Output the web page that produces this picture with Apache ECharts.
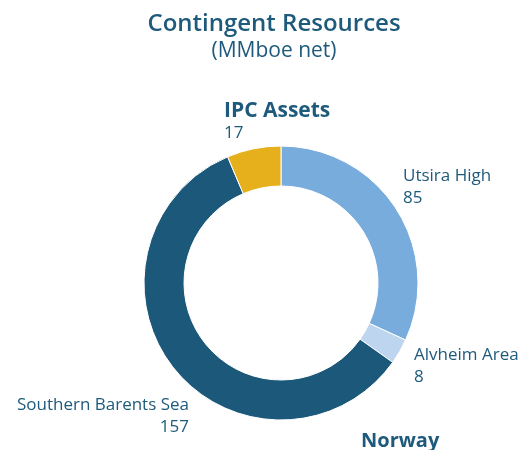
<!DOCTYPE html>
<html>
<head>
<meta charset="utf-8">
<title>Contingent Resources</title>
<script src="https://cdn.jsdelivr.net/npm/echarts@6/dist/echarts.min.js"></script>
<style>
html, body { margin: 0; padding: 0; background: #fff; }
#chart { width: 523px; height: 450px; }
</style>
</head>
<body>
<div id="chart"></div>
<script>
// data
var names = ['Utsira High', 'Alvheim Area', 'Southern Barents Sea', 'IPC Assets'];
var values = [85, 8, 157, 17];
var colors = ['#78acdd', '#bed5ef', '#1b5879', '#e6b01d'];

var textColor = '#1e5a7b';
var font = 'Open Sans';

// label placement for each slice (x, y of middle of label, alignment)
var labelPos = [
	{ x: 403, y: 187, align: 'left' },
	{ x: 414, y: 366, align: 'left' },
	{ x: 189, y: 416, align: 'right' },
	{ x: 224, y: 122, align: 'left' }
];

var chart = echarts.init(document.getElementById('chart'));

var data = names.map(function (n, i) {
	var bold = n === 'IPC Assets';
	return {
		name: n,
		value: values[i],
		itemStyle: { color: colors[i] },
		label: {
			formatter: bold ? '{b|{b}}\n{v|{c}}' : '{n|{b}}\n{v|{c}}',
			align: labelPos[i].align
		}
	};
});

var option = {
	animation: false,
	title: [{
		text: 'Contingent Resources',
		left: 269,
		top: 7,
		textAlign: 'center',
		textStyle: { fontFamily: font, fontSize: 24, fontWeight: 600, color: textColor }
	}, {
		text: '(MMboe net)',
		left: 269,
		top: 36,
		textAlign: 'center',
		textStyle: { fontFamily: font, fontSize: 21, fontWeight: 'normal', color: textColor }
	}],
	graphic: [{
		type: 'text',
		left: 361,
		top: 431,
		style: {
			text: 'Norway',
			fontFamily: font,
			fontSize: 20,
			fontWeight: 'bold',
			fill: textColor
		}
	}],
	series: [{
		type: 'pie',
		center: [281, 283],
		radius: [97, 137],
		startAngle: 90,
		clockwise: true,
		avoidLabelOverlap: false,
		itemStyle: { borderColor: '#fff', borderWidth: 1 },
		label: {
			show: true,
			position: 'outside',
			color: textColor,
			fontFamily: font,
			rich: {
				n: { fontFamily: font, fontSize: 17, color: textColor, lineHeight: 22 },
				b: { fontFamily: font, fontSize: 21, fontWeight: 'bold', color: textColor, lineHeight: 23 },
				v: { fontFamily: font, fontSize: 17, color: textColor, lineHeight: 22 }
			}
		},
		labelLine: { show: false },
		labelLayout: function (params) {
			var p = labelPos[params.dataIndex];
			return { x: p.x, y: p.y, align: p.align, verticalAlign: 'middle' };
		},
		emphasis: { disabled: true },
		data: data
	}]
};

chart.setOption(option);
</script>
</body>
</html>
